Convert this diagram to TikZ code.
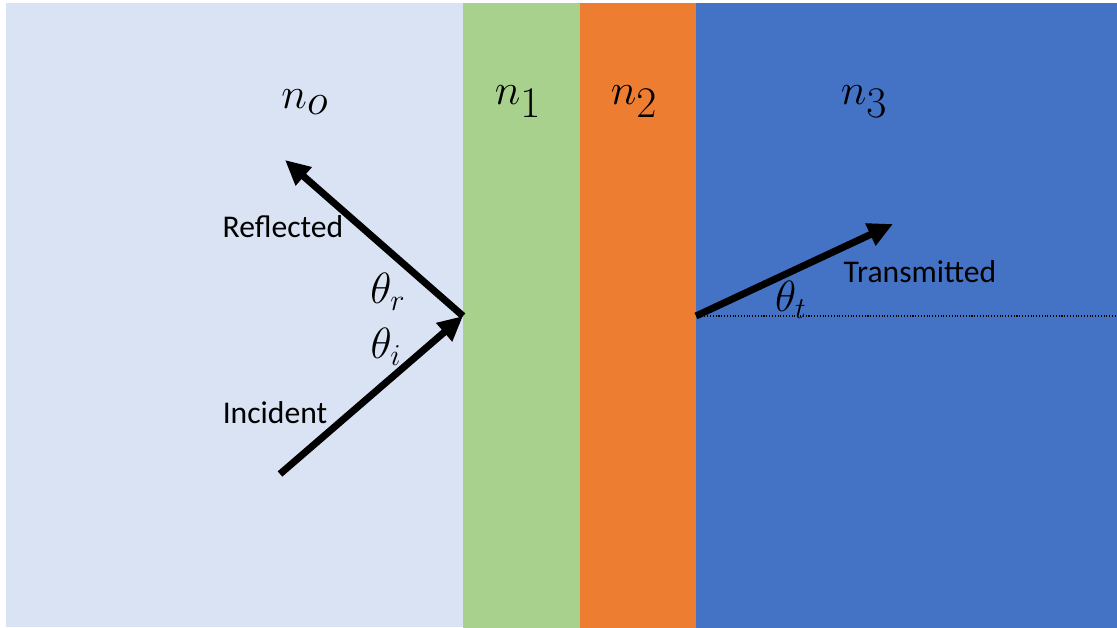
\documentclass[tikz,border=0pt]{standalone}
\usepackage{amsmath, amssymb}
\usepackage{fontspec}
\setmainfont{Carlito}
\usetikzlibrary{arrows.meta, positioning, calc}

\definecolor{airblue}{HTML}{DAE3F3}
\definecolor{filmgreen}{HTML}{A9D18E}
\definecolor{filmorange}{HTML}{ED7D31}
\definecolor{subblue}{HTML}{4472C4}

\tikzset{
  ray/.style={line width=4pt, -{Triangle[length=0.5cm, width=0.46cm]}},
  txt/.style={font=\fontsize{18}{21}\selectfont},
  idx/.style={font=\fontsize{35}{40}\selectfont},
  ang/.style={font=\fontsize{26}{30}\selectfont}
}

\begin{document}
\begin{tikzpicture}[x=0.02cm, y=-0.02cm]
\useasboundingbox (0,0) rectangle (1117,628);
% layers
\fill[airblue]    (6,3)   rectangle (463,627);
\fill[filmgreen]  (463,3) rectangle (580,628);
\fill[filmorange] (580,3) rectangle (696,628);
\fill[subblue]    (696,3) rectangle (1117,628);
% refractive indices
\foreach \x/\n/\nm in {305/o/no, 518/1/none, 634/2/ntwo, 864/3/nthree}
    \node[idx] (\nm) at (\x, 102) {$n_\n$};
% rays
\coordinate (hit)  at (463,316);
\coordinate (exit) at (696,316);
\coordinate (src)  at (280,474);
\coordinate (refl) at (285,160);
\coordinate (trans) at (893,224);
\coordinate (edge) at (1117,316);
\draw[ray] (src) -- (hit);
\draw[ray] (hit) -- (refl);
\draw[ray] (exit) -- (trans);
\draw[densely dotted, line width=0.6pt] (exit) -- (edge);
% labels
\node[txt] (reflected)   at (283,227) {Reflected};
\node[txt] (incident)    at (275,413) {Incident};
\node[txt] (transmitted) at (920,272) {Transmitted};
\node[ang] (thr) at (388,292) {$\theta_r$};
\node[ang] (thi) at (386,347) {$\theta_i$};
\node[ang] (tht) at (791,300) {$\theta_t$};
\end{tikzpicture}
\end{document}
